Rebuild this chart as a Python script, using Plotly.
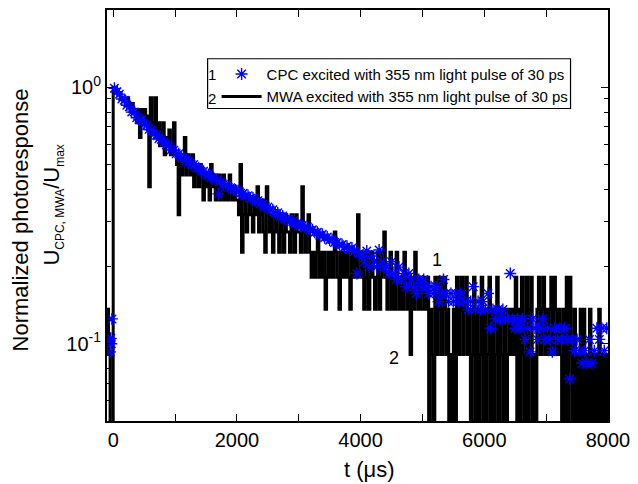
import numpy as np
import plotly.graph_objects as go

# ---- CPC photoresponse (normalized), sampled every 40 us after the pulse ----
cpc_pre_t = [-60, -50, -40, -30, -20]
cpc_pre_v = [0.102, 0.093, 0.105, 0.100, 0.125]

cpc_main_v = [
    0.99, 0.96, 0.94, 0.90, 0.89, 0.85, 0.84, 0.80, 0.80, 0.76,
    0.75, 0.745, 0.715, 0.71, 0.685, 0.68, 0.655, 0.65, 0.63, 0.625,
    0.61, 0.595, 0.59, 0.57, 0.568, 0.55, 0.55, 0.535, 0.532, 0.518,
    0.515, 0.50, 0.50, 0.486, 0.485, 0.47, 0.47, 0.458, 0.457, 0.446,
    0.444, 0.434, 0.384, 0.428, 0.418, 0.417, 0.407, 0.406, 0.398, 0.398,
    0.395, 0.386, 0.386, 0.377, 0.378, 0.369, 0.37, 0.36, 0.361, 0.352,
    0.35, 0.342, 0.341, 0.332, 0.333, 0.323, 0.324, 0.314, 0.315, 0.306,
    0.306, 0.30, 0.30, 0.293, 0.296, 0.288, 0.29, 0.283, 0.285, 0.277,
    0.278, 0.272, 0.272, 0.265, 0.267, 0.259, 0.261, 0.253, 0.255, 0.248,
    0.248, 0.243, 0.244, 0.238, 0.24, 0.233, 0.236, 0.23, 0.188, 0.225,
    0.22, 0.209, 0.23, 0.199, 0.22, 0.209, 0.199, 0.232, 0.209, 0.199,
    0.199, 0.188, 0.209, 0.188, 0.178, 0.199, 0.178, 0.188, 0.167, 0.188,
    0.178, 0.167, 0.157, 0.178, 0.167, 0.178, 0.167, 0.157, 0.167, 0.157,
    0.167, 0.146, 0.157, 0.178, 0.157, 0.146, 0.157, 0.146, 0.157, 0.146,
    0.157, 0.146, 0.146, 0.136, 0.146, 0.167, 0.136, 0.146, 0.136, 0.146,
    0.136, 0.157, 0.115, 0.136, 0.125, 0.136, 0.125, 0.136, 0.125, 0.125,
    0.188, 0.125, 0.115, 0.125, 0.115, 0.125, 0.104, 0.115, 0.093, 0.125,
    0.115, 0.104, 0.115, 0.125, 0.104, 0.115, 0.104, 0.093, 0.115, 0.104,
    0.115, 0.104, 0.115, 0.104, 0.073, 0.104, 0.094, 0.104, 0.094, 0.084,
    0.094, 0.084, 0.104, 0.084, 0.094, 0.115, 0.104, 0.115, 0.094, 0.115,
]
cpc_main_t = list(range(20, 8000, 40))

cpc_t = cpc_pre_t + cpc_main_t
cpc_v = cpc_pre_v + cpc_main_v

# ---- MWA photoresponse: digitizer levels (full scale = 22 counts), 25 us sampling ----
mwa_full_scale = 22
mwa_counts = [
    3, 2, 1, 1,
    22, 22, 21, 21, 21, 20, 20, 20, 19, 20, 19, 18, 19, 18, 18, 16, 18, 14, 18, 17,
    18, 16, 17, 9, 20, 16, 15, 20, 14, 16, 13, 15, 16, 12, 14, 13, 15, 12, 13, 16,
    12, 11, 7, 12, 10, 11, 14, 10, 12, 11, 10, 12, 9, 11, 10, 9, 11, 10, 8, 10,
    9, 10, 8, 11, 9, 10, 8, 9, 10, 8, 9, 10, 8, 9, 8, 10, 9, 8, 9, 8,
    8, 7, 11, 5, 7, 8, 6, 7, 8, 7, 6, 8, 7, 9, 6, 7, 8, 6, 5, 9,
    7, 6, 7, 5, 6, 7, 6, 5, 7, 6, 5, 7, 6, 6, 5, 7, 6, 5, 7, 6,
    6, 5, 9, 6, 5, 6, 7, 5, 4, 5, 4, 5, 6, 4, 5, 4, 5, 3, 4, 5,
    4, 5, 4, 6, 5, 4, 3, 5, 4, 5, 4, 5, 4, 3, 5, 4, 5, 4, 7, 5,
    4, 5, 3, 4, 5, 3, 4, 5, 4, 3, 4, 5, 3, 4, 5, 6, 4, 3, 4, 5,
    3, 4, 3, 5, 4, 3, 4, 3, 5, 4, 3, 4, 2, 4, 3, 5, 4, 3, 4, 3,
    3, 4, 3, 4, 1, 3, 2, 1, 4, 2, 3, 4, 2, 3, 4, 2, 3, 1, 2, 1,
    3, 1, 4, 2, 3, 4, 2, 3, 4, 2, 3, 1, 2, 4, 1, 3, 1, 2, 4, 1,
    3, 1, 2, 4, 1, 3, 1, 2, 4, 1, 3, 2, 1, 3, 1, 2, 3, 2, 3, 2,
    4, 1, 3, 1, 4, 2, 1, 4, 1, 3, 4, 1, 2, 1, 3, 4, 2, 3, 4, 2,
    3, 2, 3, 4, 2, 4, 3, 2, 3, 2, 1, 3, 1, 4, 1, 4, 2, 1, 3, 1,
    2, 1, 3, 1, 3, 1, 2, 1, 3, 1, 2, 1, 2, 1, 3, 1, 2, 1, 2, 1,
    2,
]
mwa_t = list(range(-100, 8001, 25))
mwa_v = [c / mwa_full_scale for c in mwa_counts]

# legend frame extent, as fractions of the plotting area
frame_x0, frame_x1 = 0.2008, 0.9252
frame_y0, frame_y1 = 0.7603, 0.8814

FONT = "Liberation Sans, Arial, Helvetica, sans-serif"

fig = go.Figure()

# digitized signal drawn as a sample-and-hold trace
fig.add_trace(go.Scatter(
    x=mwa_t, y=mwa_v, mode="lines",
    name="MWA excited with 355 nm light pulse of 30 ps",
    line=dict(color="black", width=3, shape="hv"),
    legendrank=2,
))
fig.add_trace(go.Scatter(
    x=cpc_t, y=cpc_v, mode="markers",
    name="CPC excited with 355 nm light pulse of 30 ps",
    marker=dict(symbol="asterisk-open", size=10, color="#0000ff",
                line=dict(color="#0000ff", width=1.4)),
    legendrank=1,
))
# legend frame, drawn on a hidden unit overlay axis pair
fig.add_trace(go.Scatter(
    x=[frame_x0, frame_x1, frame_x1, frame_x0, frame_x0],
    y=[frame_y0, frame_y0, frame_y1, frame_y1, frame_y0],
    mode="lines", line=dict(color="black", width=1.2),
    xaxis="x2", yaxis="y2", showlegend=False, hoverinfo="skip",
))

# axis geometry
x_range = [-100, 8000]
y_range = [np.log10(0.05), np.log10(2.0)]
x_major = [0, 2000, 4000, 6000, 8000]
x_minor = [1000, 3000, 5000, 7000]
y_major = [0.1, 1.0]
y_major_text = ["10<sup>-1</sup>", "10<sup>0</sup>"]
y_minor = [0.05, 0.06, 0.07, 0.08, 0.09, 0.2, 0.3, 0.4, 0.5, 0.6, 0.7, 0.8, 0.9, 2.0]

fig.update_layout(
    xaxis=dict(
        range=x_range, tickmode="array", tickvals=x_major,
        ticks="inside", ticklen=7, tickwidth=1, tickcolor="black",
        minor=dict(tickmode="array", tickvals=x_minor, ticks="inside", ticklen=7,
                   tickwidth=1, tickcolor="black", showgrid=False),
        showline=True, linecolor="black", linewidth=2, mirror="ticks",
        showgrid=False, zeroline=False,
        tickfont=dict(family=FONT, size=20, color="black"),
    ),
    yaxis=dict(
        type="log", range=y_range, tickmode="array", tickvals=y_major,
        ticktext=y_major_text,
        ticks="inside", ticklen=7, tickwidth=1, tickcolor="black",
        minor=dict(tickmode="array", tickvals=y_minor, ticks="inside", ticklen=4,
                   tickwidth=1, tickcolor="black", showgrid=False),
        showline=True, linecolor="black", linewidth=2, mirror="ticks",
        showgrid=False, zeroline=False,
        tickfont=dict(family=FONT, size=20, color="black"),
    ),
    xaxis2=dict(overlaying="x", range=[0, 1], visible=False, fixedrange=True),
    yaxis2=dict(overlaying="y", range=[0, 1], visible=False, fixedrange=True),
)

annotations = [
    dict(text="t (μs)", xref="paper", yref="paper", x=0.523, y=-0.118,
         xanchor="center", yanchor="middle", showarrow=False,
         font=dict(family=FONT, size=22, color="black")),
    dict(text="Normalized photoresponse", xref="paper", yref="paper",
         x=-0.172, y=0.49, textangle=-90, xanchor="center", yanchor="middle",
         showarrow=False, font=dict(family=FONT, size=22, color="black")),
    dict(text="U<sub><span style='font-size:12px'>CPC, MWA</span></sub>/U"
              "<sub><span style='font-size:12px'>max</span></sub>",
         xref="paper", yref="paper", x=-0.107, y=0.525, textangle=-90,
         xanchor="center", yanchor="middle", showarrow=False,
         font=dict(family=FONT, size=22, color="black")),
    # curve labels
    dict(text="1", x=5228, y=np.log10(0.212), xref="x", yref="y", showarrow=False,
         font=dict(family=FONT, size=18, color="black")),
    dict(text="2", x=4540, y=np.log10(0.088), xref="x", yref="y", showarrow=False,
         font=dict(family=FONT, size=18, color="black")),
    # numbering inside the legend frame (left of the entries)
    dict(text="1", xref="paper", yref="paper", x=0.2086, y=0.8433, showarrow=False,
         xanchor="center", yanchor="middle", font=dict(family=FONT, size=15, color="black")),
    dict(text="2", xref="paper", yref="paper", x=0.2086, y=0.7852, showarrow=False,
         xanchor="center", yanchor="middle", font=dict(family=FONT, size=15, color="black")),
]

fig.update_layout(
    width=638, height=484,
    margin=dict(l=107, r=23, t=8, b=63),
    paper_bgcolor="white", plot_bgcolor="white",
    showlegend=True,
    legend=dict(x=0.2008, y=0.884, xanchor="left", yanchor="top",
                bgcolor="rgba(255,255,255,0)", borderwidth=0,
                indentation=9, itemwidth=40,
                font=dict(family=FONT, size=15, color="black"),
                tracegroupgap=0),
    annotations=annotations,
)

fig.write_html("out.html")
